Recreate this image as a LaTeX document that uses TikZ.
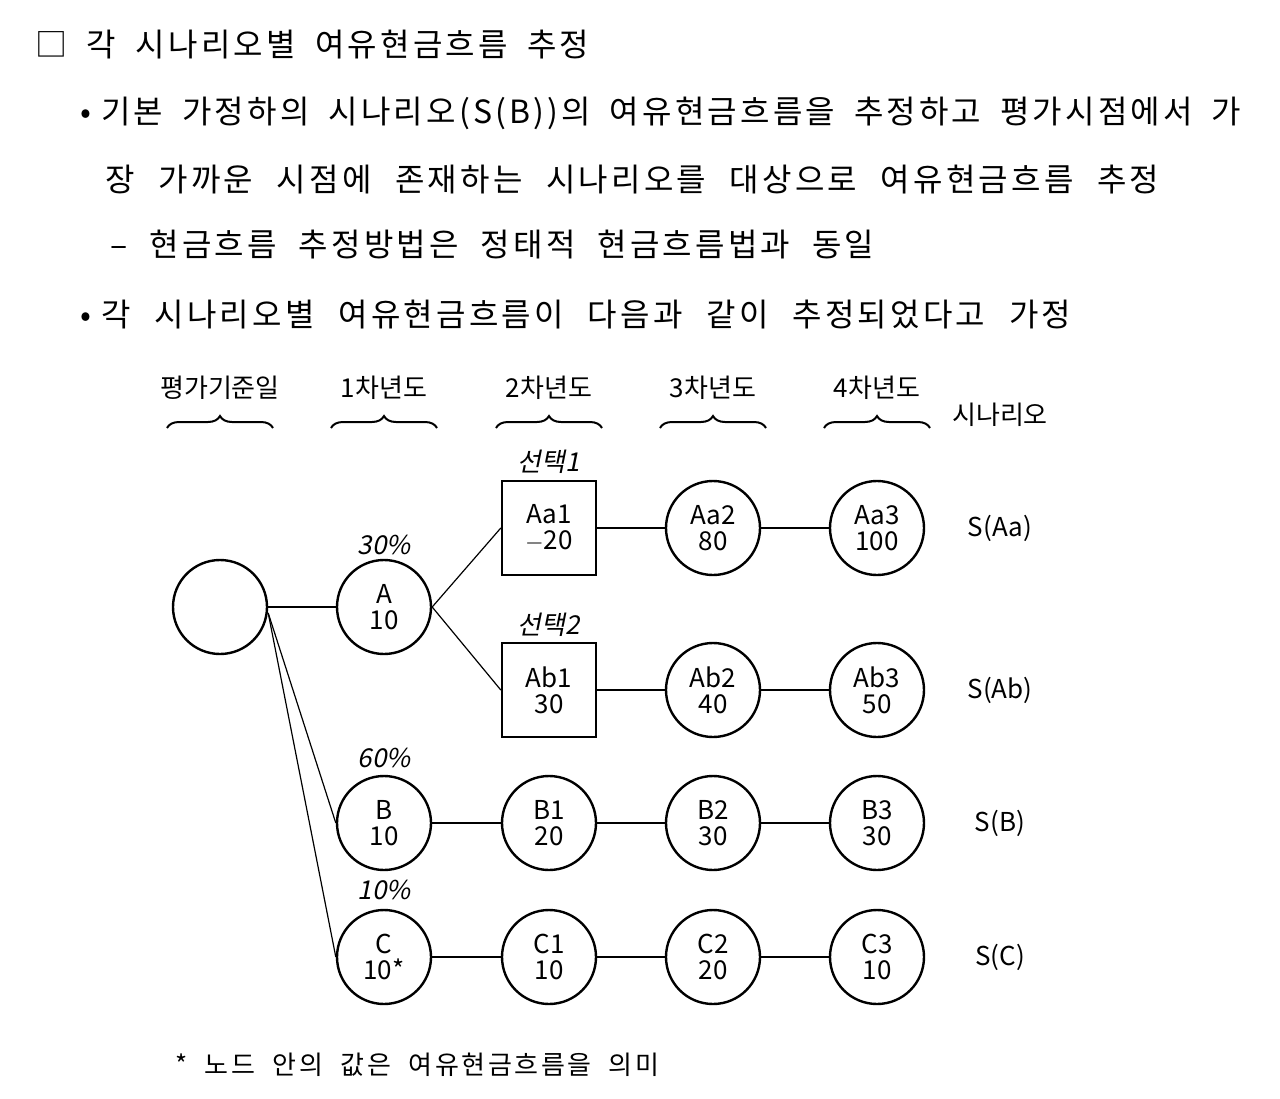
\documentclass[tikz,border=0pt]{standalone}
\usepackage{fontspec}
\setmainfont{Noto Sans CJK KR}
\newfontfamily\krw[LetterSpace=10]{Noto Sans CJK KR}
\newfontfamily\krit[FakeSlant=0.2]{Noto Sans CJK KR}
\usetikzlibrary{decorations.pathreplacing}
\begin{document}
\begin{tikzpicture}[x=0.5pt,y=-0.5pt,
  circ/.style={circle,draw,line width=1.2pt,minimum size=47pt,inner sep=0pt,align=center,font=\fontsize{13}{13}\selectfont},
  sq/.style={rectangle,draw,line width=1.2pt,minimum size=47pt,inner sep=0pt,align=center,font=\fontsize{13}{13}\selectfont},
  hd/.style={anchor=west,inner sep=0pt,font=\fontsize{16}{16}\krw},
  lb/.style={inner sep=0pt,font=\fontsize{13}{13}\selectfont},
  pc/.style={inner sep=0pt,font=\fontsize{13}{13}\krit},
  ln/.style={line width=0.6pt},
  br/.style={decorate,decoration={brace,amplitude=6pt},line width=1pt}]
\useasboundingbox (0,0) rectangle (1280,1098);
\node[hd] (h0) at (35,45) {\makebox[277pt][s]{□ 각 시나리오별 여유현금흐름 추정}};
\node[hd] (h1) at (80,113) {•\hspace{5pt}\makebox[570pt][s]{기본 가정하의 시나리오(S(B))의 여유현금흐름을 추정하고 평가시점에서 가}};
\node[hd] (h2) at (105,180) {\makebox[527pt][s]{장 가까운 시점에 존재하는 시나리오를 대상으로 여유현금흐름 추정}};
\node[hd] (h3) at (110,245) {\makebox[382pt][s]{– 현금흐름 추정방법은 정태적 현금흐름법과 동일}};
\node[hd] (h4) at (80,315) {•\hspace{5pt}\makebox[485pt][s]{각 시나리오별 여유현금흐름이 다음과 같이 추정되었다고 가정}};
\foreach \x/\t [count=\i] in {220/평가기준일,384/1차년도,549/2차년도,713/3차년도,877/4차년도}{
  \node[lb] (c\i) at (\x,388) {\t};
  \draw[br] (\x-53,428) -- (\x+53,428);
}
\node[lb] (sc) at (1000,415) {시나리오};
\node[circ] (r) at (220,607) {};
\node[circ] (A) at (384,607) {A\\10};
\node[circ] (B) at (384,823) {B\\10};
\node[circ] (C) at (384,957) {C\\10*};
\node[sq] (Aa1) at (549,528) {Aa1\\$-$20};
\node[circ] (Aa2) at (713,528) {Aa2\\80};
\node[circ] (Aa3) at (877,528) {Aa3\\100};
\node[sq] (Ab1) at (549,690) {Ab1\\30};
\node[circ] (Ab2) at (713,690) {Ab2\\40};
\node[circ] (Ab3) at (877,690) {Ab3\\50};
\node[circ] (B1) at (549,823) {B1\\20};
\node[circ] (B2) at (713,823) {B2\\30};
\node[circ] (B3) at (877,823) {B3\\30};
\node[circ] (C1) at (549,957) {C1\\10};
\node[circ] (C2) at (713,957) {C2\\20};
\node[circ] (C3) at (877,957) {C3\\10};
\node[pc] (pa) at (384,545) {30\%};
\node[pc] (pb) at (384,758) {60\%};
\node[pc] (pcc) at (384,890) {10\%};
\node[pc] (s1) at (549,462) {선택1};
\node[pc] (s2) at (549,625) {선택2};
\node[lb] (SA) at (1000,528) {S(Aa)};
\node[lb] (SB) at (1000,690) {S(Ab)};
\node[lb] (SC) at (1000,823) {S(B)};
\node[lb] (SD) at (1000,957) {S(C)};
\coordinate (rb) at ([yshift=-3pt]r.east);
\draw[ln] (r.east) -- (A.west);
\draw[ln] (rb) -- (B.west);
\draw[ln] (rb) -- (C.west);
\draw[ln] (A.east) -- (Aa1.west);
\draw[ln] (A.east) -- (Ab1.west);
\draw[ln] (Aa1) -- (Aa2) -- (Aa3);
\draw[ln] (Ab1) -- (Ab2) -- (Ab3);
\draw[ln] (B) -- (B1) -- (B2) -- (B3);
\draw[ln] (C) -- (C1) -- (C2) -- (C3);
\node[anchor=west,inner sep=0pt,font=\fontsize{13}{13}\krw] (fn) at (175,1065) {\makebox[242pt][s]{* 노드 안의 값은 여유현금흐름을 의미}};
\end{tikzpicture}
\end{document}
